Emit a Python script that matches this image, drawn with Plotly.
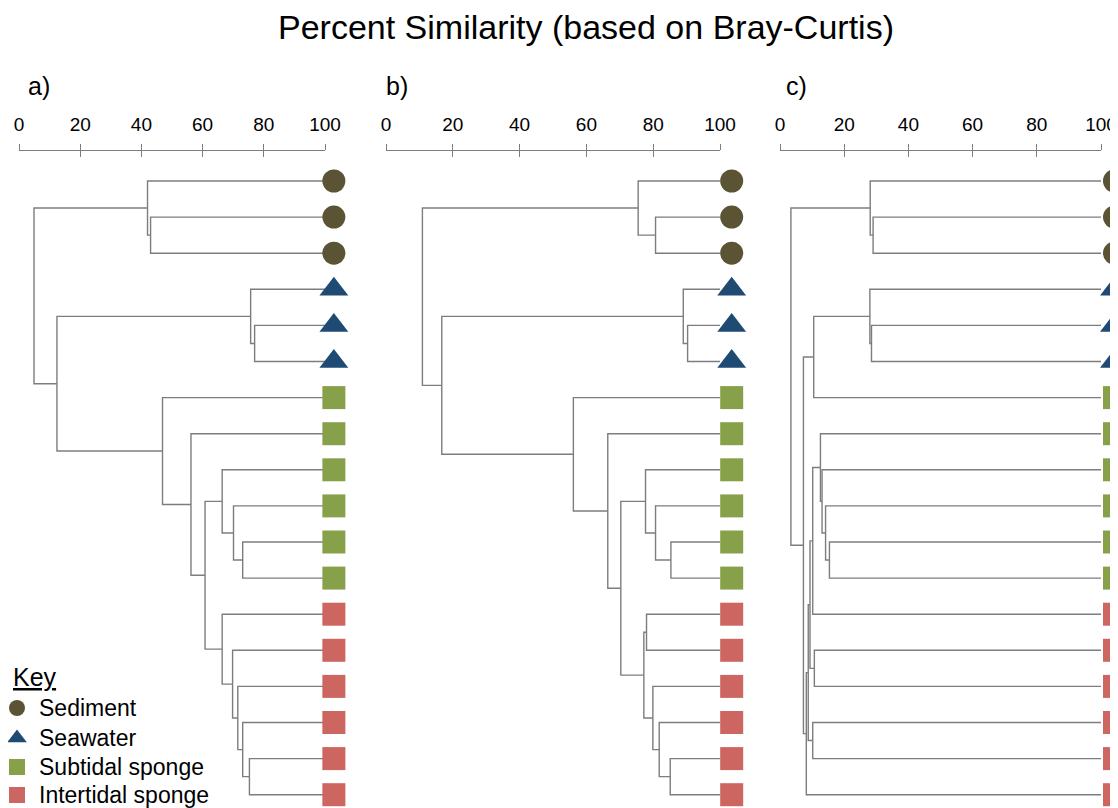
import plotly.graph_objects as go

# ---------------- data ----------------
TITLE = "Percent Similarity (based on Bray-Curtis)"
PANEL_LABELS = ["a)", "b)", "c)"]
TICK_VALUES = [0, 20, 40, 60, 80, 100]
TICK_LABELS = ["0", "20", "40", "60", "80", "100"]

KEY_TITLE = "Key"
GROUPS = ["Sediment", "Seawater", "Subtidal sponge", "Intertidal sponge"]
GROUP_COLORS = ["#5B5434", "#1E4A73", "#87A14A", "#CD6560"]
GROUP_SYMBOLS = ["circle", "triangle-up", "square", "square"]

# sample order top -> bottom (group index of each leaf)
LEAF_GROUPS = [0, 0, 0, 1, 1, 1, 2, 2, 2, 2, 2, 2, 3, 3, 3, 3, 3, 3]
LEAF_SIMILARITY = 100

# merges: (child1, child2, % similarity); leaves 0..17, merge k -> node 18+k
MERGES_A = [
    (1, 2, 43.0), (0, 18, 42.0),
    (4, 5, 77.0), (3, 20, 75.7),
    (10, 11, 73.1), (9, 22, 70.1), (8, 23, 66.4),
    (16, 17, 75.3), (15, 25, 73.1), (14, 26, 71.5), (13, 27, 69.8), (12, 28, 66.4),
    (24, 29, 60.8), (7, 30, 56.2), (6, 31, 46.9),
    (21, 32, 12.4), (19, 33, 4.9),
]
MERGES_B = [
    (1, 2, 80.7), (0, 18, 75.5),
    (4, 5, 90.3), (3, 20, 89.0),
    (10, 11, 85.3), (9, 22, 80.7), (8, 23, 77.7),
    (12, 13, 78.0), (16, 17, 85.1), (15, 26, 81.8), (14, 27, 79.9), (25, 28, 77.2),
    (24, 29, 70.3), (7, 30, 66.4), (6, 31, 56.1),
    (21, 32, 16.7), (19, 33, 10.9),
]
MERGES_C = [
    (1, 2, 29.0), (0, 18, 28.1),
    (4, 5, 28.5), (3, 20, 28.0),
    (21, 6, 10.5),
    (10, 11, 15.4), (9, 23, 14.2), (8, 24, 13.1), (7, 25, 12.6), (26, 12, 10.2),
    (13, 14, 10.7), (27, 28, 9.35),
    (15, 16, 10.2), (29, 30, 8.8),
    (31, 17, 8.2),
    (22, 32, 7.3), (19, 33, 3.4),
]
PANEL_MERGES = [MERGES_A, MERGES_B, MERGES_C]

# ---------------- layout constants (window pixels) ----------------
OFF = 8                              # page body margin of the html page
W, H = 1118 - OFF, 808 - OFF         # figure ends at the window edge
PX_ZERO = [19, 386, 780]             # window x of similarity 0 on each panel
PX_HUNDRED = [325, 720, 1101]        # window x of similarity 100 on each panel
PX_EXTENT = [(OFF, 365), (368, 762), (766, OFF + W)]
MARKER_OFFSET = [2.9, 3.5, 4.2]
AXIS_PX_Y = 150
LEAF0_PX, LEAF_STEP_PX = 181, 36.1
TITLE_PX = (586, 27)
LABEL_PX_X = [26, 384, 784]
LABEL_PX_Y = 86
KEY_MARK_PX_X, KEY_TEXT_PX_X = 17, 37
KEY_TITLE_PX = (11, 677)
KEY_ROW_PX_Y = [708, 738, 767, 795]
LINE_COLOR = "#7d7d7d"
FONT = "Arial, Liberation Sans, sans-serif"


def px_x(px):
    return (px - OFF) / W


def px_y(py):
    return 1 - (py - OFF) / H


def dendro(merges, n):
    xs = {i: LEAF_SIMILARITY for i in range(n)}
    ys = {i: i for i in range(n)}
    lx, ly = [], []
    for k, (a, b, h) in enumerate(merges):
        node = n + k
        lx += [xs[a], h, h, xs[b], None]
        ly += [ys[a], ys[a], ys[b], ys[b], None]
        xs[node] = h
        ys[node] = (ys[a] + ys[b]) / 2
    return lx, ly


fig = go.Figure()
n = len(LEAF_GROUPS)
for p, merges in enumerate(PANEL_MERGES):
    ax = "x" if p == 0 else f"x{p + 1}"
    lx, ly = dendro(merges, n)
    fig.add_trace(go.Scatter(x=lx, y=ly, mode="lines", xaxis=ax, yaxis="y",
                             line=dict(color=LINE_COLOR, width=1.4), cliponaxis=False,
                             showlegend=False, hoverinfo="skip"))
    for g, name in enumerate(GROUPS):
        idx = [i for i, gg in enumerate(LEAF_GROUPS) if gg == g]
        fig.add_trace(go.Scatter(
            x=[LEAF_SIMILARITY + MARKER_OFFSET[p]] * len(idx), y=idx,
            mode="markers", xaxis=ax, yaxis="y", name=name,
            marker=dict(symbol=GROUP_SYMBOLS[g], color=GROUP_COLORS[g],
                        size=25 if GROUP_SYMBOLS[g] == "triangle-up" else 23,
                        line=dict(width=0)),
            cliponaxis=False, showlegend=False))
    # empty traces so that the similarity scale axes are drawn
    for sax in (f"x{p + 4}", f"x{p + 8}"):
        fig.add_trace(go.Scatter(x=[], y=[], xaxis=sax, yaxis="y", mode="markers",
                                 showlegend=False, hoverinfo="skip"))

# key (drawn on a full-figure axis pair whose units are window pixels)
for g, name in enumerate(GROUPS):
    fig.add_trace(go.Scatter(
        x=[KEY_MARK_PX_X], y=[KEY_ROW_PX_Y[g]], mode="markers", xaxis="x7", yaxis="y2",
        marker=dict(symbol=GROUP_SYMBOLS[g], color=GROUP_COLORS[g],
                    size=17 if GROUP_SYMBOLS[g] == "triangle-up" else 16, line=dict(width=0)),
        cliponaxis=False, showlegend=False, name=name))

layout = dict(
    width=W, height=H, margin=dict(l=0, r=0, t=0, b=0, autoexpand=False),
    paper_bgcolor="white", plot_bgcolor="rgba(0,0,0,0)",
    font=dict(family=FONT, color="black"),
    showlegend=False,
    yaxis=dict(domain=[0, 1],
               range=[(H + OFF - LEAF0_PX) / LEAF_STEP_PX, (OFF - LEAF0_PX) / LEAF_STEP_PX],
               visible=False, fixedrange=True),
    xaxis7=dict(domain=[0, 1], range=[OFF, OFF + W], visible=False, anchor="y2", fixedrange=True),
    yaxis2=dict(domain=[0, 1], range=[OFF + H, OFF], visible=False, anchor="x7", fixedrange=True),
)

annotations = [dict(text=TITLE, xref="paper", yref="paper",
                    x=px_x(TITLE_PX[0]), y=px_y(TITLE_PX[1]),
                    xanchor="center", yanchor="middle", showarrow=False,
                    font=dict(size=34, family=FONT, color="black"))]
pos = px_y(AXIS_PX_Y)
for p in range(3):
    k = (PX_HUNDRED[p] - PX_ZERO[p]) / 100.0
    e0, e1 = PX_EXTENT[p]
    # data axis (invisible): wide enough to hold the leaf markers
    dname = "xaxis" if p == 0 else f"xaxis{p + 1}"
    layout[dname] = dict(domain=[px_x(e0), px_x(e1)],
                         range=[(e0 - PX_ZERO[p]) / k, (e1 - PX_ZERO[p]) / k],
                         anchor="y", visible=False, fixedrange=True)
    # visible similarity scale, 0..100
    sname = f"xaxis{p + 4}"
    layout[sname] = dict(domain=[px_x(PX_ZERO[p]), px_x(PX_HUNDRED[p])], range=[0, 100],
                         anchor="free", position=pos, side="top",
                         showline=True, linecolor=LINE_COLOR, linewidth=1.4,
                         showgrid=False, zeroline=False,
                         tickmode="array", tickvals=TICK_VALUES, ticktext=TICK_LABELS,
                         ticks="outside", ticklen=6, tickwidth=1.2, tickcolor=LINE_COLOR,
                         tickfont=dict(size=19, family=FONT, color="black"),
                         ticklabelstandoff=5, ticklabeloverflow="allow", fixedrange=True)
    # overlaid axis drawing the lower half of the crossing ticks
    oname = f"xaxis{p + 8}"
    layout[oname] = dict(overlaying=f"x{p + 4}", range=[0, 100],
                         anchor="free", position=pos, side="top",
                         showline=False, showgrid=False, zeroline=False,
                         tickmode="array", tickvals=TICK_VALUES, ticktext=[""] * len(TICK_VALUES),
                         ticks="inside", ticklen=6, tickwidth=1.2, tickcolor=LINE_COLOR,
                         showticklabels=False, fixedrange=True)
    annotations.append(dict(text=PANEL_LABELS[p], xref="paper", yref="paper",
                            x=px_x(LABEL_PX_X[p]), y=px_y(LABEL_PX_Y),
                            xanchor="left", yanchor="middle", showarrow=False,
                            font=dict(size=25, family=FONT, color="black")))

annotations.append(dict(text=f"<u>{KEY_TITLE}</u>", xref="x7", yref="y2",
                        x=KEY_TITLE_PX[0], y=KEY_TITLE_PX[1], xanchor="left", yanchor="middle",
                        showarrow=False, font=dict(size=25, family=FONT, color="black")))
for g, name in enumerate(GROUPS):
    annotations.append(dict(text=name, xref="x7", yref="y2",
                            x=KEY_TEXT_PX_X, y=KEY_ROW_PX_Y[g], xanchor="left", yanchor="middle",
                            showarrow=False, font=dict(size=23, family=FONT, color="black")))

layout["annotations"] = annotations
fig.update_layout(**layout)
fig.write_html("out.html")
